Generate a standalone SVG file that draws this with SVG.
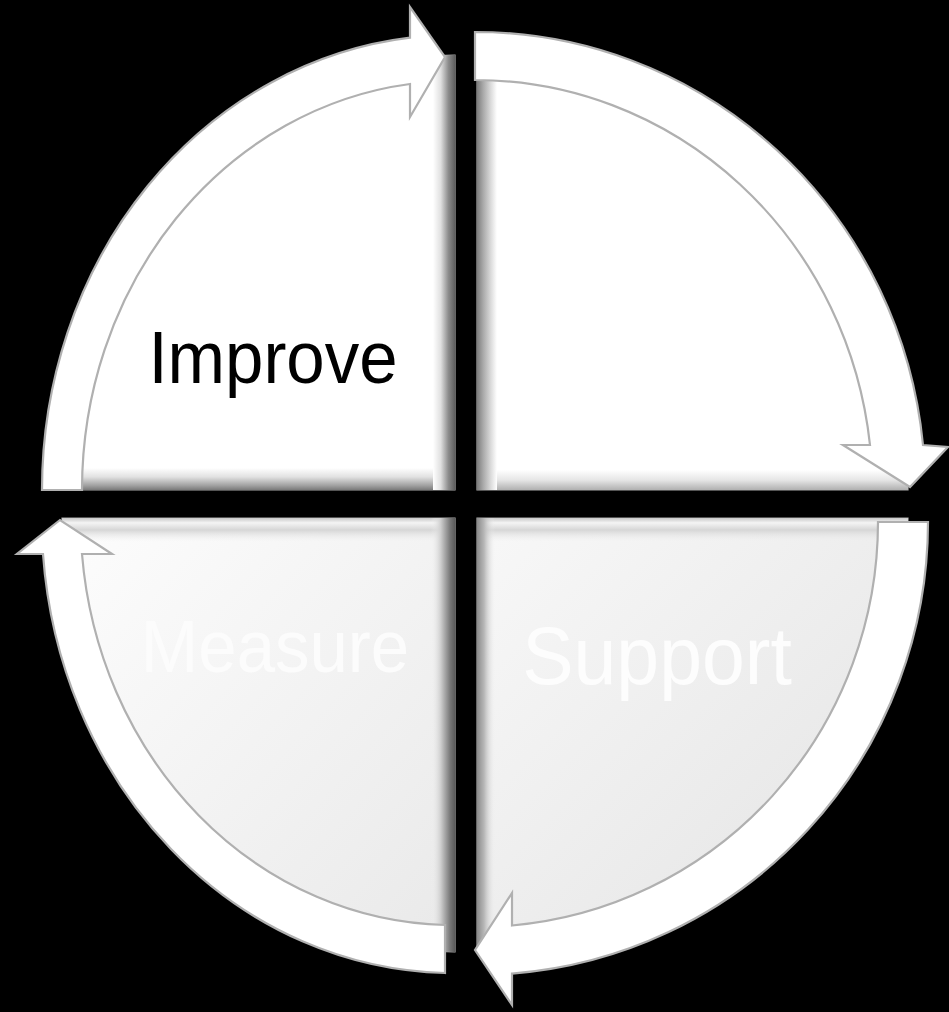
<svg xmlns="http://www.w3.org/2000/svg" width="949" height="1012" viewBox="0 0 949 1012">
<defs>
<style>
.band{fill:#ffffff;stroke:#b0b0b0;stroke-width:2.2;stroke-linejoin:miter}
.pie{stroke:#a8a8a8;stroke-width:1.2}
.lbl{font-family:"Liberation Sans",Arial,sans-serif;text-anchor:middle}
</style>
<linearGradient id="gBL" x1="0" y1="0" x2="1" y2="1"><stop offset="0" stop-color="#fdfdfd"/><stop offset="1" stop-color="#e9e9e9"/></linearGradient>
<linearGradient id="gBR" x1="0" y1="0" x2="1" y2="1"><stop offset="0" stop-color="#f8f8f8"/><stop offset="1" stop-color="#e3e3e3"/></linearGradient>
<linearGradient id="sTLr" gradientUnits="userSpaceOnUse" x1="433" y1="0" x2="455" y2="0"><stop offset="0" stop-color="#fff"/><stop offset="0.35" stop-color="#e0e0e0"/><stop offset="0.7" stop-color="#8c8c8c"/><stop offset="1" stop-color="#5e5e5e"/></linearGradient>
<linearGradient id="sTLb" gradientUnits="userSpaceOnUse" x1="0" y1="468" x2="0" y2="490"><stop offset="0" stop-color="#fff"/><stop offset="0.4" stop-color="#e2e2e2"/><stop offset="0.8" stop-color="#a0a0a0"/><stop offset="1" stop-color="#7a7a7a"/></linearGradient>
<linearGradient id="sTRl" gradientUnits="userSpaceOnUse" x1="477" y1="0" x2="497" y2="0"><stop offset="0" stop-color="#7c7c7c"/><stop offset="0.3" stop-color="#a8a8a8"/><stop offset="0.7" stop-color="#dcdcdc"/><stop offset="1" stop-color="#fff"/></linearGradient>
<linearGradient id="sTRb" gradientUnits="userSpaceOnUse" x1="0" y1="470" x2="0" y2="490"><stop offset="0" stop-color="#fff"/><stop offset="0.5" stop-color="#e6e6e6"/><stop offset="1" stop-color="#b0b0b0"/></linearGradient>
<linearGradient id="sBt" gradientUnits="userSpaceOnUse" x1="0" y1="518" x2="0" y2="542"><stop offset="0" stop-color="#c8c8c8"/><stop offset="0.2" stop-color="#f4f4f4"/><stop offset="0.5" stop-color="#d6d6d6"/><stop offset="1" stop-color="#f0f0f0" stop-opacity="0"/></linearGradient>
<linearGradient id="sBLr" gradientUnits="userSpaceOnUse" x1="431" y1="0" x2="455" y2="0"><stop offset="0" stop-color="#f2f2f2" stop-opacity="0"/><stop offset="0.4" stop-color="#cfcfcf"/><stop offset="0.8" stop-color="#777"/><stop offset="1" stop-color="#5a5a5a"/></linearGradient>
<linearGradient id="sBRl" gradientUnits="userSpaceOnUse" x1="477" y1="0" x2="495" y2="0"><stop offset="0" stop-color="#8a8a8a"/><stop offset="0.4" stop-color="#b8b8b8"/><stop offset="1" stop-color="#eeeeee" stop-opacity="0"/></linearGradient>
<clipPath id="cTL"><path d="M455,490 L455,55 A410,435 0 0 0 45,490 Z"/></clipPath>
<clipPath id="cTR"><path d="M477,490 L477,45 A431,445 0 0 1 908,490 Z"/></clipPath>
<clipPath id="cBR"><path d="M477,518 L908,518 A431,432 0 0 1 477,950 Z"/></clipPath>
<clipPath id="cBL"><path d="M455,518 L455,952 A393,434 0 0 1 62,518 Z"/></clipPath>
</defs>
<rect width="949" height="1012" fill="#000"/>

<g id="node-improve">
<path class="pie" d="M455,490 L455,55 A410,435 0 0 0 45,490 Z" fill="#ffffff"/>
<g clip-path="url(#cTL)">
<rect x="0" y="468" width="455" height="22" fill="url(#sTLb)"/>
<rect x="433" y="0" width="22" height="490" fill="url(#sTLr)"/>
</g>
<text class="lbl" transform="translate(273,383) scale(1,1.07)" font-size="69" fill="#000000">Improve</text>
</g>

<g id="node-topright">
<path class="pie" d="M477,490 L477,45 A431,445 0 0 1 908,490 Z" fill="#ffffff"/>
<g clip-path="url(#cTR)">
<rect x="477" y="470" width="440" height="20" fill="url(#sTRb)"/>
<rect x="477" y="0" width="20" height="490" fill="url(#sTRl)"/>
</g>
</g>

<g id="node-measure">
<path class="pie" d="M455,518 L455,952 A393,434 0 0 1 62,518 Z" fill="url(#gBL)"/>
<g clip-path="url(#cBL)">
<rect x="0" y="518" width="455" height="24" fill="url(#sBt)"/>
<rect x="431" y="518" width="24" height="440" fill="url(#sBLr)"/>
</g>
<text class="lbl" transform="translate(275,672) scale(1,1.07)" font-size="69" fill="#fcfcfc">Measure</text>
</g>

<g id="node-support">
<path class="pie" d="M477,518 L908,518 A431,432 0 0 1 477,950 Z" fill="url(#gBR)"/>
<g clip-path="url(#cBR)">
<rect x="477" y="518" width="440" height="24" fill="url(#sBt)"/>
<rect x="477" y="518" width="18" height="440" fill="url(#sBRl)"/>
</g>
<text class="lbl" transform="translate(657,684) scale(1,1.07)" font-size="77" fill="#fdfdfd">Support</text>
</g>

<g id="connectors">
<path class="band" d="M42,490 A413,455 0 0 1 410,37.7 L410,7 L445,57 L410,117 L410,84 A373,409 0 0 0 82,490 Z"/>
<path class="band" d="M475,32 A450,458 0 0 1 923,445 L948,447 L910,487 L843,445 L870,445 A397,410 0 0 0 475,80 Z"/>
<path class="band" d="M928,522 A451,453 0 0 1 512,973.6 L512,1005 L475,950 L512,893 L512,925.5 A401,405 0 0 0 878,522 Z"/>
<path class="band" d="M445,973 A412,455 0 0 1 43,554 L17,554 L60,520 L112,554 L82,554 A373,407 0 0 0 445,925 Z"/>
</g>
</svg>
